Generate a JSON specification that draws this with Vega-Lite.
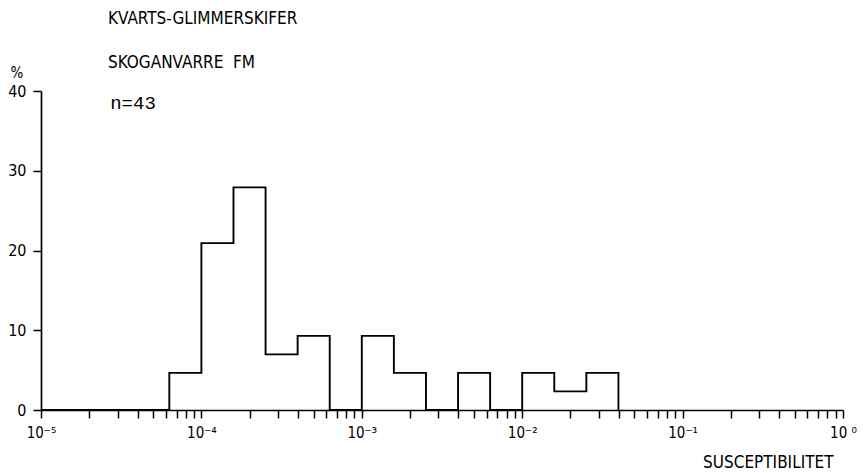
{
  "$schema": "https://vega.github.io/schema/vega-lite/v6.json",
  "width": 802,
  "height": 319,
  "autosize": {"type": "none"},
  "padding": {"left": 41, "top": 91, "right": 22, "bottom": 63},
  "background": "white",
  "config": {
    "view": {"stroke": null},
    "font": "Liberation Sans Narrow, DejaVu Sans Condensed, sans-serif",
    "axis": {
      "grid": false,
      "domainColor": "#000000",
      "domainWidth": 1.7,
      "tickColor": "#000000",
      "tickWidth": 1.5,
      "labelColor": "#000000",
      "titleColor": "#000000",
      "labelFont": "Liberation Sans Narrow, DejaVu Sans Condensed, sans-serif",
      "titleFont": "Liberation Sans Narrow, DejaVu Sans Condensed, sans-serif",
      "titleFontWeight": "normal"
    }
  },
  "title": {
    "text": "KVARTS-GLIMMERSKIFER",
    "subtitle": "SKOGANVARRE \u00a0FM",
    "anchor": "start",
    "frame": "group",
    "dx": 67,
    "dy": 7,
    "offset": 0,
    "fontSize": 17,
    "fontWeight": "normal",
    "font": "Liberation Sans Narrow, DejaVu Sans Condensed, sans-serif",
    "color": "#000000",
    "subtitleFontSize": 17,
    "subtitleFont": "Liberation Sans Narrow, DejaVu Sans Condensed, sans-serif",
    "subtitleColor": "#000000",
    "subtitlePadding": 27
  },
  "datasets": {
    "bins": [
      {"edge": 0.00001, "pct": 0},
      {"edge": 0.000063096, "pct": 4.65},
      {"edge": 0.0001, "pct": 20.93},
      {"edge": 0.00015849, "pct": 27.91},
      {"edge": 0.00025119, "pct": 6.98},
      {"edge": 0.00039811, "pct": 9.30},
      {"edge": 0.00063096, "pct": 0},
      {"edge": 0.001, "pct": 9.30},
      {"edge": 0.0015849, "pct": 4.65},
      {"edge": 0.0025119, "pct": 0},
      {"edge": 0.0039811, "pct": 4.65},
      {"edge": 0.0063096, "pct": 0},
      {"edge": 0.01, "pct": 4.65},
      {"edge": 0.015849, "pct": 2.33},
      {"edge": 0.025119, "pct": 4.65},
      {"edge": 0.039811, "pct": 0}
    ]
  },
  "layer": [
    {
      "data": {"name": "bins"},
      "mark": {"type": "line", "interpolate": "step-after", "color": "#000000", "strokeWidth": 1.9},
      "encoding": {
        "x": {
          "field": "edge",
          "type": "quantitative",
          "scale": {"type": "log", "domain": [0.00001, 1]},
          "axis": {
            "title": "SUSCEPTIBILITET",
            "titleFontSize": 17,
            "titleAnchor": null,
            "titleAlign": "right",
            "titleBaseline": "alphabetic",
            "titleX": 792,
            "titleY": 57,
            "values": [0.00001, 0.00002, 0.00003, 0.00004, 0.00005, 0.00006, 0.00007, 0.00008, 0.00009,
                       0.0001, 0.0002, 0.0003, 0.0004, 0.0005, 0.0006, 0.0007, 0.0008, 0.0009,
                       0.001, 0.002, 0.003, 0.004, 0.005, 0.006, 0.007, 0.008, 0.009,
                       0.01, 0.02, 0.03, 0.04, 0.05, 0.06, 0.07, 0.08, 0.09,
                       0.1, 0.2, 0.3, 0.4, 0.5, 0.6, 0.7, 0.8, 0.9, 1],
            "tickSize": 8,
            "labelPadding": 7,
            "labelFontSize": 15,
            "labelFlush": false,
            "labelOverlap": false,
            "labelExpr": "abs(log(datum.value)/LN10 - round(log(datum.value)/LN10)) < 0.01 ? ('10' + (round(log(datum.value)/LN10) < 0 ? '⁻' : ' ') + ['⁰','¹','²','³','⁴','⁵'][abs(round(log(datum.value)/LN10))]) : ''",
            "encode": {
              "ticks": {
                "update": {
                  "y2": {"signal": "abs(log(datum.value)/LN10 - round(log(datum.value)/LN10)) < 0.01 ? 8 : 4"}
                }
              }
            }
          }
        },
        "y": {
          "field": "pct",
          "type": "quantitative",
          "scale": {"domain": [0, 40]},
          "axis": {
            "values": [0, 10, 20, 30, 40],
            "tickSize": 8,
            "labelPadding": 7,
            "labelFontSize": 16,
            "title": "%",
            "titleFontSize": 15,
            "titleAngle": 0,
            "titleAnchor": null,
            "titleAlign": "left",
            "titleBaseline": "alphabetic",
            "titleX": -31,
            "titleY": -14
          }
        }
      }
    },
    {
      "data": {"values": [{}]},
      "mark": {"type": "text", "align": "left", "baseline": "middle", "font": "Liberation Mono, DejaVu Sans Mono, monospace", "fontSize": 19, "color": "#000000"},
      "encoding": {
        "x": {"datum": 0.000027, "type": "quantitative"},
        "y": {"datum": 38.5, "type": "quantitative"},
        "text": {"value": "n=43"}
      }
    }
  ]
}
